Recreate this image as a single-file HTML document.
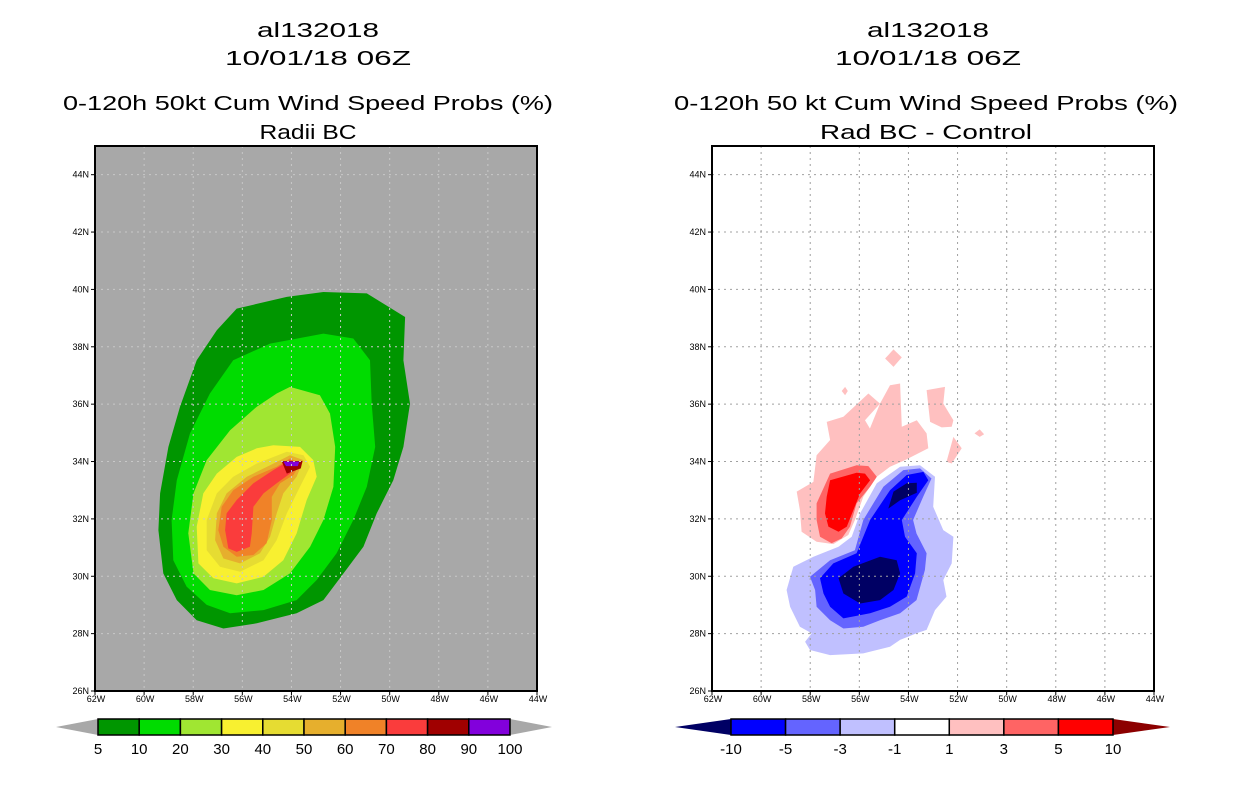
<!DOCTYPE html>
<html><head><meta charset="utf-8"><style>
html,body{margin:0;padding:0;background:#fff;}
svg{display:block;font-family:"Liberation Sans",sans-serif;}
</style></head><body>
<svg id="fig" width="1236" height="800" viewBox="0 0 1236 800" xmlns="http://www.w3.org/2000/svg">
<g font-size="20" text-anchor="middle" fill="#000">
<text x="318" y="37" textLength="122" lengthAdjust="spacingAndGlyphs">al132018</text>
<text x="318" y="65" textLength="186" lengthAdjust="spacingAndGlyphs">10/01/18 06Z</text>
<text x="308" y="110" textLength="490" lengthAdjust="spacingAndGlyphs">0-120h 50kt Cum Wind Speed Probs (%)</text>
<text x="308" y="139" textLength="97" lengthAdjust="spacingAndGlyphs">Radii BC</text>
</g>
<g font-size="20" text-anchor="middle" fill="#000">
<text x="928" y="37" textLength="122" lengthAdjust="spacingAndGlyphs">al132018</text>
<text x="928" y="65" textLength="186" lengthAdjust="spacingAndGlyphs">10/01/18 06Z</text>
<text x="926" y="110" textLength="504" lengthAdjust="spacingAndGlyphs">0-120h 50 kt Cum Wind Speed Probs (%)</text>
<text x="926" y="139" textLength="212" lengthAdjust="spacingAndGlyphs">Rad BC - Control</text>
</g>
<g id="left"></g>
<g id="right"></g>
<g id="cbl"></g>
<g id="cbr"></g>
</svg>
<script>
const lonTicks = [-62,-60,-58,-56,-54,-52,-50,-48,-46,-44];
const latTicks = [26,28,30,32,34,36,38,40,42,44];
const leftLevels = ['5','10','20','30','40','50','60','70','80','90','100'];
const leftColors = ['#009600','#00dc00','#a0e632','#f8f030','#e6dc32','#e6af2d','#f08228','#fa3c3c','#a00000','#8200dc'];
const rightLevels = ['-10','-5','-3','-1','1','3','5','10'];
const rightColors = ['#0000ff','#6464ff','#c0c0ff','#ffffff','#ffc0c0','#ff6464','#ff0000'];

// contour polygons, [lon, lat]
const prob5 = [[-56.23,39.33],[-54.19,39.74],[-52.70,39.91],[-50.93,39.86],[-49.37,39.04],[-49.44,37.53],[-49.17,36.02],[-49.44,34.51],[-49.85,33.35],[-50.53,32.19],[-51.07,31.03],[-51.88,30.10],[-52.70,29.17],[-53.79,28.71],[-55.41,28.36],[-56.77,28.18],[-57.86,28.47],[-58.67,29.17],[-59.22,30.10],[-59.42,31.61],[-59.35,32.89],[-59.01,34.51],[-58.54,35.91],[-57.86,37.53],[-57.04,38.58]];
const prob10 = [[-54.87,38.11],[-52.70,38.46],[-51.48,38.29],[-50.80,37.53],[-50.73,36.02],[-50.59,34.51],[-50.93,33.12],[-51.48,31.96],[-52.16,30.80],[-52.97,29.87],[-53.79,29.17],[-55.14,28.82],[-56.50,28.71],[-57.45,29.00],[-58.27,29.64],[-58.81,30.56],[-58.88,31.96],[-58.67,33.35],[-58.13,34.98],[-57.32,36.37],[-56.37,37.53]];
const prob20 = [[-54.06,36.60],[-52.84,36.31],[-52.43,35.67],[-52.22,34.51],[-52.29,33.12],[-52.70,31.96],[-53.24,31.03],[-54.06,30.10],[-55.14,29.52],[-56.23,29.34],[-57.32,29.52],[-57.99,30.10],[-58.20,31.50],[-57.99,32.89],[-57.45,34.05],[-56.50,35.09],[-55.41,35.91],[-54.60,36.37]];
const prob30 = [[-54.74,34.57],[-53.65,34.51],[-53.11,34.05],[-52.97,33.47],[-53.38,32.66],[-53.79,31.49],[-54.33,30.56],[-55.14,29.98],[-56.23,29.75],[-57.18,29.93],[-57.79,30.45],[-57.86,31.73],[-57.59,32.89],[-57.04,33.58],[-56.23,34.16],[-55.41,34.46]];
const prob40 = [[-54.19,34.34],[-53.51,34.22],[-53.24,33.82],[-53.65,33.12],[-54.19,32.19],[-54.60,31.26],[-55.14,30.56],[-56.09,30.16],[-56.91,30.33],[-57.45,30.91],[-57.45,31.96],[-57.04,32.89],[-56.37,33.47],[-55.41,33.93]];
const prob50 = [[-54.06,34.22],[-53.51,34.05],[-53.79,33.47],[-54.33,32.89],[-54.60,32.19],[-54.87,31.38],[-55.28,30.80],[-56.09,30.45],[-56.77,30.62],[-57.11,31.26],[-57.04,32.19],[-56.64,32.89],[-55.82,33.47],[-54.87,33.87]];
const prob60 = [[-54.06,34.11],[-53.65,33.93],[-53.92,33.53],[-54.46,33.24],[-54.80,32.77],[-54.80,31.96],[-55.01,31.15],[-55.55,30.74],[-56.23,30.68],[-56.77,31.03],[-56.98,31.61],[-56.84,32.42],[-56.37,33.00],[-55.55,33.47],[-54.60,33.82]];
const prob70 = [[-54.06,34.05],[-53.79,33.93],[-54.06,33.58],[-54.60,33.24],[-55.14,32.89],[-55.55,32.42],[-55.62,31.49],[-55.69,31.03],[-56.23,30.85],[-56.57,30.97],[-56.70,31.61],[-56.64,32.19],[-56.23,32.66],[-55.55,33.24],[-54.74,33.70]];
const prob80 = [[-54.40,34.02],[-53.55,34.02],[-53.62,33.76],[-54.19,33.58]];
const prob90 = [[-54.33,34.0],[-53.68,34.0],[-53.74,33.84],[-54.22,33.84]];

const diffPink = [[-58.55,32.95],[-57.87,33.29],[-57.74,34.22],[-57.19,34.75],[-57.33,35.38],[-56.65,35.56],[-55.63,36.37],[-55.16,36.02],[-54.75,36.66],[-54.34,36.72],[-54.27,35.21],[-53.66,35.44],[-53.26,34.98],[-53.19,34.46],[-54.14,34.05],[-54.75,33.82],[-55.29,33.47],[-55.84,32.77],[-56.18,31.96],[-56.45,31.44],[-57.06,31.12],[-57.74,31.20],[-58.35,31.55],[-58.42,32.31]];
const diffHole = [[-55.77,35.44],[-55.16,36.02],[-55.57,35.15]];
const diffPinkA = [[-54.95,37.59],[-54.61,37.91],[-54.27,37.63],[-54.61,37.30]];
const diffPinkB = [[-56.72,36.46],[-56.58,36.60],[-56.47,36.46],[-56.58,36.31]];
const diffPinkC = [[-53.26,36.49],[-52.51,36.60],[-52.58,36.02],[-52.17,35.44],[-52.24,35.21],[-52.65,35.19],[-53.12,35.38]];
const diffPinkD = [[-52.17,34.86],[-51.83,34.46],[-52.24,33.93],[-52.45,33.99]];
const diffPinkE = [[-51.31,34.98],[-51.10,35.12],[-50.92,34.95],[-51.10,34.86]];
const diffRed3 = [[-57.74,32.54],[-57.19,33.58],[-56.11,33.87],[-55.63,33.84],[-55.29,33.47],[-55.56,33.12],[-56.11,32.54],[-56.38,31.73],[-56.72,31.32],[-57.13,31.15],[-57.60,31.38],[-57.74,31.96]];
const diffRed5 = [[-57.33,32.77],[-57.19,33.35],[-56.11,33.61],[-55.77,33.58],[-55.56,33.35],[-55.97,32.89],[-56.24,32.31],[-56.51,31.73],[-56.85,31.55],[-57.26,31.73],[-57.40,32.19]];
const diffBlue1 = [[-58.96,29.52],[-58.69,30.33],[-57.87,30.68],[-56.85,31.03],[-56.31,31.38],[-55.97,32.19],[-55.29,33.24],[-54.34,33.82],[-53.53,33.87],[-52.92,33.47],[-52.99,32.42],[-52.58,31.61],[-52.17,31.38],[-52.24,30.45],[-52.58,29.87],[-52.45,29.29],[-52.92,28.82],[-53.26,28.13],[-53.67,28.01],[-54.34,27.78],[-54.75,27.54],[-55.84,27.31],[-57.19,27.25],[-58.01,27.43],[-58.21,27.72],[-57.94,28.01],[-58.42,28.24],[-58.82,28.94]];
const diffBlue3 = [[-58.01,29.98],[-57.19,30.56],[-56.18,30.91],[-55.84,31.96],[-55.02,33.12],[-54.21,33.70],[-53.53,33.76],[-53.06,33.41],[-53.40,32.77],[-53.81,31.96],[-53.67,31.49],[-53.26,30.80],[-53.33,30.22],[-53.67,29.17],[-54.34,28.71],[-55.16,28.47],[-55.84,28.24],[-56.65,28.18],[-57.19,28.47],[-57.74,28.94],[-57.80,29.52]];
const diffBlue5 = [[-57.60,29.93],[-57.06,30.45],[-56.11,30.80],[-55.56,31.96],[-54.75,33.00],[-54.07,33.53],[-53.39,33.64],[-53.19,33.35],[-53.66,32.77],[-54.27,31.96],[-54.14,31.38],[-53.66,30.80],[-53.73,30.10],[-54.07,29.29],[-54.75,28.94],[-55.56,28.71],[-56.65,28.53],[-57.19,28.94],[-57.46,29.40]];
const diffNavyA = [[-56.85,29.93],[-56.24,30.33],[-55.16,30.68],[-54.48,30.56],[-54.34,30.10],[-54.61,29.52],[-55.16,29.17],[-55.97,29.05],[-56.65,29.40]];
const diffNavyB = [[-54.61,32.95],[-54.07,33.24],[-53.66,33.26],[-53.66,32.91],[-54.34,32.65],[-54.82,32.36]];

const NS='http://www.w3.org/2000/svg';
const TOP=146, BOT=691, LONMIN=-62, LONMAX=-44, LATMIN=26, LATMAX=45;
const W=442;
function xs(x0){return lon=>x0+(lon-LONMIN)/(LONMAX-LONMIN)*W;}
function ys(lat){return BOT-(lat-LATMIN)/(LATMAX-LATMIN)*(BOT-TOP);}
function mk(tag,attrs,parent){const e=document.createElementNS(NS,tag);for(const k in attrs)e.setAttribute(k,attrs[k]);parent.appendChild(e);return e;}
function poly(g,x,pts,fill,name){
  const e=mk('polygon',{points:pts.map(p=>x(p[0]).toFixed(1)+','+ys(p[1]).toFixed(1)).join(' '),fill:fill},g);
  
  
}
function axes(g,x0,bg,gridCol){
  const x=xs(x0);
  const r=mk('rect',{x:x0,y:TOP,width:W,height:BOT-TOP,fill:bg},g);
  
  
  return x;
}
function decor(g,x0,gridCol){
  const x=xs(x0);
  lonTicks.forEach(l=>{
    if(l>LONMIN&&l<LONMAX){const gl=mk('line',{x1:x(l),x2:x(l),y1:TOP,y2:BOT,stroke:gridCol,'stroke-dasharray':'2,4','stroke-width':1},g);
    
    }
    mk('line',{x1:x(l),x2:x(l),y1:BOT,y2:BOT+4,stroke:'#000'},g);
    const t=mk('text',{x:x(l)+1,y:BOT+11,'font-size':9,'text-anchor':'middle'},g);
    t.textContent=Math.abs(l)+'W';
    
    
  });
  latTicks.forEach(l=>{
    if(l>LATMIN){const gl=mk('line',{x1:x0,x2:x0+W,y1:ys(l),y2:ys(l),stroke:gridCol,'stroke-dasharray':'2,4','stroke-width':1},g);
    
    }
    mk('line',{x1:x0-4,x2:x0,y1:ys(l),y2:ys(l),stroke:'#000'},g);
    const t=mk('text',{x:x0-6,y:ys(l)+3,'font-size':9,'text-anchor':'end'},g);
    t.textContent=l+'N';
    
    
  });
  const f=mk('rect',{x:x0,y:TOP,width:W,height:BOT-TOP,fill:'none',stroke:'#000','stroke-width':2},g);
  
  
}
// left
const L=document.getElementById('left');
const xl=axes(L,95,'#a8a8a8');
[prob5,prob10,prob20,prob30,prob40,prob50,prob60,prob70,prob80,prob90].forEach((p,i)=>poly(L,xl,p,leftColors[i],'prob-contour-'+leftLevels[i]));
decor(L,95,'#c8c8c8');
// right
const R=document.getElementById('right');
const xr=axes(R,712,'#ffffff');
poly(R,xr,diffPink,rightColors[4],'diff-contour-pos1');
poly(R,xr,diffHole,'#ffffff','diff-gap');
[diffPinkA,diffPinkB,diffPinkC,diffPinkD,diffPinkE].forEach(p=>poly(R,xr,p,rightColors[4],'diff-contour-pos1-patch'));
poly(R,xr,diffRed3,rightColors[5],'diff-contour-pos3');
poly(R,xr,diffRed5,rightColors[6],'diff-contour-pos5');
poly(R,xr,diffBlue1,rightColors[2],'diff-contour-neg1');
poly(R,xr,diffBlue3,rightColors[1],'diff-contour-neg3');
poly(R,xr,diffBlue5,rightColors[0],'diff-contour-neg5');
poly(R,xr,diffNavyA,'#000064','diff-contour-neg10');
poly(R,xr,diffNavyB,'#000064','diff-contour-neg10');
decor(R,712,'#a0a0a0');
// colorbars
function colorbar(g,x0,x1,tipL,tipR,cols,labels,lowCol,highCol){
  const n=cols.length, w=(x1-x0)/n, y0=719, y1=735, ym=727;
  const a=mk('polygon',{points:`${tipL},${ym} ${x0},${y0} ${x0},${y1}`,fill:lowCol},g);
  
  
  const b=mk('polygon',{points:`${tipR},${ym} ${x1},${y0} ${x1},${y1}`,fill:highCol},g);
  
  
  cols.forEach((c,i)=>{
    const r=mk('rect',{x:x0+i*w,y:y0,width:w,height:y1-y0,fill:c,stroke:'#000','stroke-width':1.5},g);
    
    
  });
  labels.forEach((s,i)=>{
    const t=mk('text',{x:x0+i*w,y:754,'font-size':15,'text-anchor':'middle'},g);
    t.textContent=s;
    
    
  });
}
colorbar(document.getElementById('cbl'),98,510,56,552,leftColors,leftLevels,'#a8a8a8','#a8a8a8');
colorbar(document.getElementById('cbr'),731,1113,675,1170,rightColors,rightLevels,'#000064','#8c0000');
</script>
</body></html>
